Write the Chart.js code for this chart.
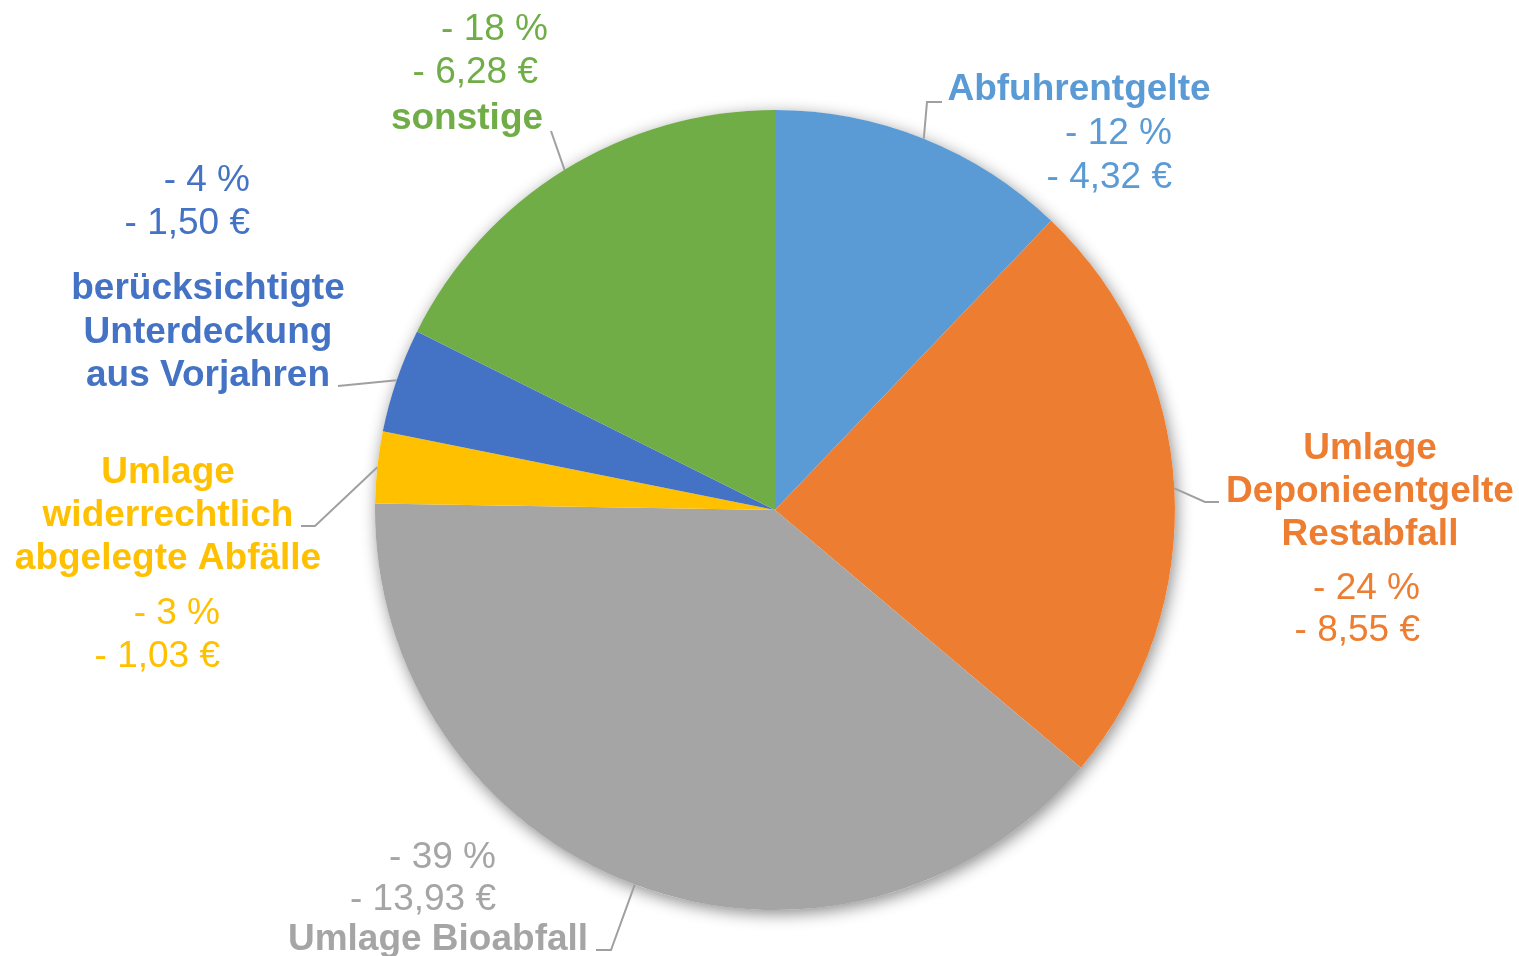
<!DOCTYPE html>
<html lang="de">
<head>
    <meta charset="UTF-8">
    <title>Gebührenanteile</title>
    <style>
        body {
            margin: 0;
            background-color: #ffffff;
        }
        #wrap {
            width: 1519px;
            height: 956px;
        }
    </style>
    <script src="https://cdn.jsdelivr.net/npm/chart.js"></script>
</head>
<body>

<div id="wrap">
    <canvas id="costChart" width="1519" height="956"></canvas>
</div>

<script>
    // Daten
    const categories = [
        'Abfuhrentgelte',
        'Umlage Deponieentgelte Restabfall',
        'Umlage Bioabfall',
        'Umlage widerrechtlich abgelegte Abfälle',
        'berücksichtigte Unterdeckung aus Vorjahren',
        'sonstige'
    ];
    const nameLines = [
        ['Abfuhrentgelte'],
        ['Umlage', 'Deponieentgelte', 'Restabfall'],
        ['Umlage Bioabfall'],
        ['Umlage', 'widerrechtlich', 'abgelegte Abfälle'],
        ['berücksichtigte', 'Unterdeckung', 'aus Vorjahren'],
        ['sonstige']
    ];
    const values = [4.32, 8.55, 13.93, 1.03, 1.50, 6.28];
    const colors = ['#5B9BD5', '#ED7D31', '#A5A5A5', '#FFC000', '#4472C4', '#70AD47'];

    // Lage der Beschriftungen (nur Layout)
    const labelLayout = [
        { cx: 1079, nameY: [88], rx: [1172, 1172], valY: [132, 176], elbow: [927, 102], end: [942, 102] },
        { cx: 1370, nameY: [447, 490, 533], rx: [1420, 1420], valY: [587, 629], elbow: [1205, 502], end: [1219, 502] },
        { cx: 438, nameY: [938], rx: [496, 496], valY: [856, 898], elbow: [611, 950], end: [596, 950] },
        { cx: 168, nameY: [471, 514, 557], rx: [220, 220], valY: [612, 655], elbow: [315, 526], end: [301, 526] },
        { cx: 208, nameY: [287, 331, 374], rx: [250, 250], valY: [179, 222], elbow: null, end: [338, 386] },
        { cx: 467, nameY: [117], rx: [548, 538], valY: [28, 71], elbow: null, end: [551, 131] }
    ];
    const textShiftY = 2;

    const total = values.reduce((a, b) => a + b, 0);

    const shadowPlugin = {
        id: 'pieShadow',
        beforeDatasetsDraw(chart) {
            const arc = chart.getDatasetMeta(0).data[0];
            if (!arc) return;
            const ctx = chart.ctx;
            ctx.save();
            ctx.shadowColor = 'rgba(0, 0, 0, 0.45)';
            ctx.shadowBlur = 16;
            ctx.shadowOffsetX = 2;
            ctx.shadowOffsetY = 4;
            ctx.fillStyle = '#ffffff';
            ctx.beginPath();
            ctx.arc(arc.x, arc.y, arc.outerRadius, 0, Math.PI * 2);
            ctx.fill();
            ctx.restore();
        }
    };

    const labelPlugin = {
        id: 'pieLabels',
        afterDatasetsDraw(chart) {
            const ctx = chart.ctx;
            const arcs = chart.getDatasetMeta(0).data;
            ctx.save();
            arcs.forEach((arc, i) => {
                const lay = labelLayout[i];
                const mid = (arc.startAngle + arc.endAngle) / 2;
                const sx = arc.x + Math.cos(mid) * arc.outerRadius;
                const sy = arc.y + Math.sin(mid) * arc.outerRadius;

                // Führungslinie
                ctx.strokeStyle = '#A0A0A0';
                ctx.lineWidth = 2;
                ctx.beginPath();
                ctx.moveTo(sx, sy);
                if (lay.elbow) ctx.lineTo(lay.elbow[0], lay.elbow[1]);
                ctx.lineTo(lay.end[0], lay.end[1]);
                ctx.stroke();

                ctx.fillStyle = colors[i];
                ctx.textBaseline = 'middle';

                ctx.font = 'bold 37px "Liberation Sans", Arial, sans-serif';
                ctx.textAlign = 'center';
                nameLines[i].forEach((line, k) => {
                    ctx.fillText(line, lay.cx, lay.nameY[k] + textShiftY);
                });

                const pct = Math.round(values[i] / total * 100);
                const euro = values[i].toFixed(2).replace('.', ',');
                const valLines = ['- ' + pct + ' %', '- ' + euro + ' €'];
                ctx.font = '37px "Liberation Sans", Arial, sans-serif';
                ctx.textAlign = 'right';
                valLines.forEach((line, k) => {
                    ctx.fillText(line, lay.rx[k], lay.valY[k] + textShiftY);
                });
            });
            ctx.restore();
        }
    };

    const ctx = document.getElementById('costChart').getContext('2d');
    const costChart = new Chart(ctx, {
        type: 'pie',
        data: {
            labels: categories,
            datasets: [{
                data: values,
                backgroundColor: colors,
                borderWidth: 0
            }]
        },
        options: {
            responsive: false,
            animation: false,
            layout: {
                padding: { left: 375, right: 344, top: 110, bottom: 46 }
            },
            plugins: {
                legend: { display: false },
                tooltip: { enabled: false }
            }
        },
        plugins: [shadowPlugin, labelPlugin]
    });
</script>

</body>
</html>
